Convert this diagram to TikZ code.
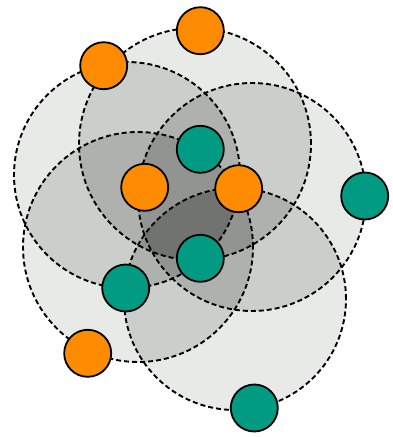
\documentclass[tikz,border=0pt]{standalone}
\usetikzlibrary{shapes.geometric}
\definecolor{orng}{RGB}{255,140,0}
\definecolor{teal2}{RGB}{0,155,130}
\definecolor{lvA}{RGB}{231,234,231}
\definecolor{lvB}{RGB}{203,206,203}
\definecolor{lvC}{RGB}{174,177,174}
\definecolor{lvD}{RGB}{145,148,145}
\definecolor{lvE}{RGB}{112,115,112}
\def\ca{(127,175) circle[radius=113pt]}
\def\cb{(195,144) circle[radius=116pt]}
\def\cc{(252,197) circle[radius=114pt]}
\def\cd{(235,299) circle[radius=111pt]}
\def\ce{(138,247) circle[radius=115pt]}
\newcommand\regfill[3]{\begin{scope}#2\fill[#1]#3;\end{scope}}
\tikzset{
  cover/.style={draw=black, line width=1.9pt, dash pattern=on 5pt off 3pt},
  dot/.style={circle, draw=black, line width=1.8pt, minimum size=47pt, inner sep=0pt},
  onode/.style={dot, fill=orng},
  tnode/.style={dot, fill=teal2}
}
\begin{document}
\begin{tikzpicture}[x=1pt,y=-1pt]
\useasboundingbox (0,0) rectangle (392,437);
% level 1
\fill[lvA] \ca; \fill[lvA] \cb; \fill[lvA] \cc; \fill[lvA] \cd; \fill[lvA] \ce;
% level 2
\regfill{lvB}{\clip\ca;}{\cb}
\regfill{lvB}{\clip\ca;}{\cc}
\regfill{lvB}{\clip\ca;}{\cd}
\regfill{lvB}{\clip\ca;}{\ce}
\regfill{lvB}{\clip\cb;}{\cc}
\regfill{lvB}{\clip\cb;}{\cd}
\regfill{lvB}{\clip\cb;}{\ce}
\regfill{lvB}{\clip\cc;}{\cd}
\regfill{lvB}{\clip\cc;}{\ce}
\regfill{lvB}{\clip\cd;}{\ce}
% level 3
\regfill{lvC}{\clip\ca;\clip\cb;}{\cc}
\regfill{lvC}{\clip\ca;\clip\cb;}{\cd}
\regfill{lvC}{\clip\ca;\clip\cb;}{\ce}
\regfill{lvC}{\clip\ca;\clip\cc;}{\cd}
\regfill{lvC}{\clip\ca;\clip\cc;}{\ce}
\regfill{lvC}{\clip\ca;\clip\cd;}{\ce}
\regfill{lvC}{\clip\cb;\clip\cc;}{\cd}
\regfill{lvC}{\clip\cb;\clip\cc;}{\ce}
\regfill{lvC}{\clip\cb;\clip\cd;}{\ce}
\regfill{lvC}{\clip\cc;\clip\cd;}{\ce}
% level 4
\regfill{lvD}{\clip\ca;\clip\cb;\clip\cc;}{\cd}
\regfill{lvD}{\clip\ca;\clip\cb;\clip\cc;}{\ce}
\regfill{lvD}{\clip\ca;\clip\cb;\clip\cd;}{\ce}
\regfill{lvD}{\clip\ca;\clip\cc;\clip\cd;}{\ce}
\regfill{lvD}{\clip\cb;\clip\cc;\clip\cd;}{\ce}
% level 5
\regfill{lvE}{\clip\ca;\clip\cb;\clip\cc;\clip\cd;}{\ce}
% outlines
\draw[cover] \ca; \draw[cover] \cb; \draw[cover] \cc; \draw[cover] \cd; \draw[cover] \ce;
% nodes
\node[onode] (o1) at (200.3,30.7) {};
\node[onode] (o2) at (103.7,65.7) {};
\node[onode] (o3) at (144.7,187.3) {};
\node[onode] (o4) at (238.7,188.7) {};
\node[onode] (o5) at (87.7,353.3) {};
\node[tnode] (t1) at (200.3,149.3) {};
\node[tnode] (t2) at (364.7,196) {};
\node[tnode] (t3) at (200.3,258.3) {};
\node[tnode] (t4) at (125.7,288) {};
\node[tnode] (t5) at (254.3,408) {};
\end{tikzpicture}
\end{document}
